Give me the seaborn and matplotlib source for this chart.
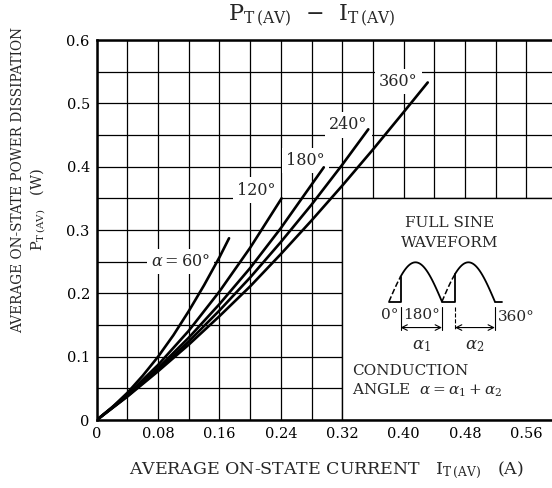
import numpy as np
import pandas as pd
import matplotlib
matplotlib.use('Agg')
import matplotlib.pyplot as plt
from matplotlib.patches import Rectangle
import seaborn as sns

# curves: average current (A) vs power (W)
i_60 = [0, 0.02, 0.04, 0.06, 0.08, 0.10, 0.12, 0.14, 0.16, 0.1725]
p_60 = [0, 0.020, 0.043, 0.070, 0.100, 0.134, 0.172, 0.213, 0.257, 0.287]
i_120 = [0, 0.04, 0.08, 0.12, 0.16, 0.20, 0.241]
p_120 = [0, 0.040, 0.087, 0.141, 0.203, 0.272, 0.350]
i_180 = [0, 0.04, 0.08, 0.12, 0.16, 0.20, 0.24, 0.296]
p_180 = [0, 0.038, 0.082, 0.130, 0.183, 0.240, 0.303, 0.399]
i_240 = [0, 0.04, 0.08, 0.12, 0.16, 0.20, 0.24, 0.28, 0.32, 0.354]
p_240 = [0, 0.038, 0.079, 0.124, 0.173, 0.225, 0.281, 0.340, 0.403, 0.459]
i_360 = [0, 0.04, 0.08, 0.12, 0.16, 0.20, 0.24, 0.28, 0.32, 0.36, 0.40, 0.4315]
p_360 = [0, 0.037, 0.077, 0.119, 0.164, 0.211, 0.262, 0.315, 0.370, 0.427, 0.486, 0.533]

x_ticks = [0, 0.08, 0.16, 0.24, 0.32, 0.40, 0.48, 0.56]
x_tick_labels = ['0', '0.08', '0.16', '0.24', '0.32', '0.40', '0.48', '0.56']
y_ticks = [0, 0.1, 0.2, 0.3, 0.4, 0.5, 0.6]
y_tick_labels = ['0', '0.1', '0.2', '0.3', '0.4', '0.5', '0.6']

curves = {'60': (i_60, p_60), '120': (i_120, p_120), '180': (i_180, p_180),
          '240': (i_240, p_240), '360': (i_360, p_360)}
df = pd.concat([pd.DataFrame({'current': c[0], 'power': c[1], 'angle': k})
                for k, c in curves.items()], ignore_index=True)

sns.set_style('white')
plt.rcParams['font.family'] = ['DejaVu Serif']
plt.rcParams['mathtext.fontset'] = 'dejavuserif'

fig = plt.figure(figsize=(5.52, 4.88), dpi=100)
ax = fig.add_axes([0.1752, 0.1393, 0.8339, 0.7787])

sns.lineplot(data=df, x='current', y='power', units='angle', estimator=None,
             color='black', lw=1.9, ax=ax, zorder=4)

ax.set_xlim(0, 0.6)
ax.set_ylim(0, 0.6)
ax.set_xticks(x_ticks)
ax.set_xticklabels(x_tick_labels)
ax.set_yticks(y_ticks)
ax.set_yticklabels(y_tick_labels)
ax.set_xticks(np.arange(0, 0.61, 0.04), minor=True)
ax.set_yticks(np.arange(0, 0.61, 0.05), minor=True)
ax.grid(True, which='both', color='black', lw=0.9)
ax.set_axisbelow(True)
ax.tick_params(which='both', length=0, labelsize=10.5, colors='black', pad=5)
for s in ax.spines.values():
    s.set_color('black')
    s.set_linewidth(1.8)
ax.set_xlabel('')
ax.set_ylabel('')

# white box for the waveform inset
ax.add_patch(Rectangle((0.32, 0), 0.3, 0.35, facecolor='white',
                       edgecolor='black', lw=1, zorder=2.5))

box = dict(facecolor='white', edgecolor='none', pad=3)
ax.text(0.109, 0.25, r'$\alpha=$60°', fontsize=11.5, ha='center', va='center', bbox=box, zorder=3)
ax.text(0.208, 0.363, '120°', fontsize=11.5, ha='center', va='center', bbox=box, zorder=3)
ax.text(0.272, 0.41, '180°', fontsize=11.5, ha='center', va='center', bbox=box, zorder=3)
ax.text(0.328, 0.466, '240°', fontsize=11.5, ha='center', va='center', bbox=box, zorder=3)
ax.text(0.393, 0.534, '360°', fontsize=11.5, ha='center', va='center', bbox=box, zorder=3)

# inset text
ax.text(0.46, 0.311, 'FULL SINE', fontsize=11, ha='center', va='center', zorder=4)
ax.text(0.46, 0.279, 'WAVEFORM', fontsize=11, ha='center', va='center', zorder=4)
ax.text(0.333, 0.078, 'CONDUCTION', fontsize=11, ha='left', va='center', zorder=4)
ax.text(0.333, 0.047, r'ANGLE  $\alpha=\alpha_1+\alpha_2$', fontsize=11, ha='left', va='center', zorder=4)

# waveform sketch
base = 0.187
hp = 0.069
amp = 0.062
s1 = 0.381
f1 = 0.396
s2 = s1 + hp
f2 = 0.467
kw = dict(color='black', lw=1.3, zorder=4)
t = np.linspace(f1, s1 + hp, 60)
ax.plot(t, base + amp * np.sin(np.pi * (t - s1) / hp), **kw)
t = np.linspace(f2, s2 + hp, 60)
ax.plot(t, base + amp * np.sin(np.pi * (t - s2) / hp), **kw)
ax.plot([s1, f1, f1], [base, base, base + amp * np.sin(np.pi * (f1 - s1) / hp)], **kw)
ax.plot([s2, f2, f2], [base, base, base + amp * np.sin(np.pi * (f2 - s2) / hp)], **kw)
ax.plot([s2 + hp, s2 + hp + 0.009], [base, base], **kw)
t = np.linspace(s1, f1, 10)
ax.plot(t, base + amp * np.sin(np.pi * (t - s1) / hp), color='black', lw=1.1, ls='--', zorder=4)
t = np.linspace(s2, f2, 10)
ax.plot(t, base + amp * np.sin(np.pi * (t - s2) / hp), color='black', lw=1.1, ls='--', zorder=4)
# marker lines
ax.plot([f1, f1], [0.178, 0.142], color='black', lw=0.8, zorder=4)
ax.plot([s2, s2], [0.178, 0.142], color='black', lw=0.8, zorder=4)
ax.plot([f2, f2], [0.178, 0.142], color='black', lw=0.8, ls='--', zorder=4)
ax.plot([s2 + hp, s2 + hp], [0.178, 0.142], color='black', lw=0.8, zorder=4)
ax.annotate('', xy=(s2, 0.146), xytext=(f1, 0.146),
            arrowprops=dict(arrowstyle='<->', lw=0.8, color='black', shrinkA=0, shrinkB=0), zorder=4)
ax.annotate('', xy=(s2 + hp, 0.146), xytext=(f2, 0.146),
            arrowprops=dict(arrowstyle='<->', lw=0.8, color='black', shrinkA=0, shrinkB=0), zorder=4)
ax.text(f1 - 0.003, 0.166, '0°', fontsize=11, ha='right', va='center', zorder=4)
ax.text((f1 + s2) / 2, 0.166, '180°', fontsize=11, ha='center', va='center', zorder=4)
ax.text(s2 + hp + 0.004, 0.162, '360°', fontsize=11, ha='left', va='center', zorder=4)
ax.text((f1 + s2) / 2, 0.118, r'$\alpha_1$', fontsize=12, ha='center', va='center', zorder=4)
ax.text((f2 + s2 + hp) / 2, 0.118, r'$\alpha_2$', fontsize=12, ha='center', va='center', zorder=4)

# titles and axis labels
fig.text(312 / 552, 1 - 16 / 488, r'P$_{\mathrm{T\,(AV)}}$  $-$  I$_{\mathrm{T\,(AV)}}$',
         fontsize=16, ha='center', va='center')
fig.text(18 / 552, 1 - 180 / 488, 'AVERAGE ON-STATE POWER DISSIPATION', fontsize=9.8,
         rotation=90, ha='center', va='center')
fig.text(38 / 552, 1 - 210 / 488, r'P$_{\mathrm{T\,(AV)}}$   (W)', fontsize=10.5,
         rotation=90, ha='center', va='center')
fig.text(326 / 552, 1 - 470 / 488, r'AVERAGE ON-STATE CURRENT   I$_{\mathrm{T\,(AV)}}$   (A)',
         fontsize=12.5, ha='center', va='center')

plt.savefig('out.png', dpi=100)
plt.close()
